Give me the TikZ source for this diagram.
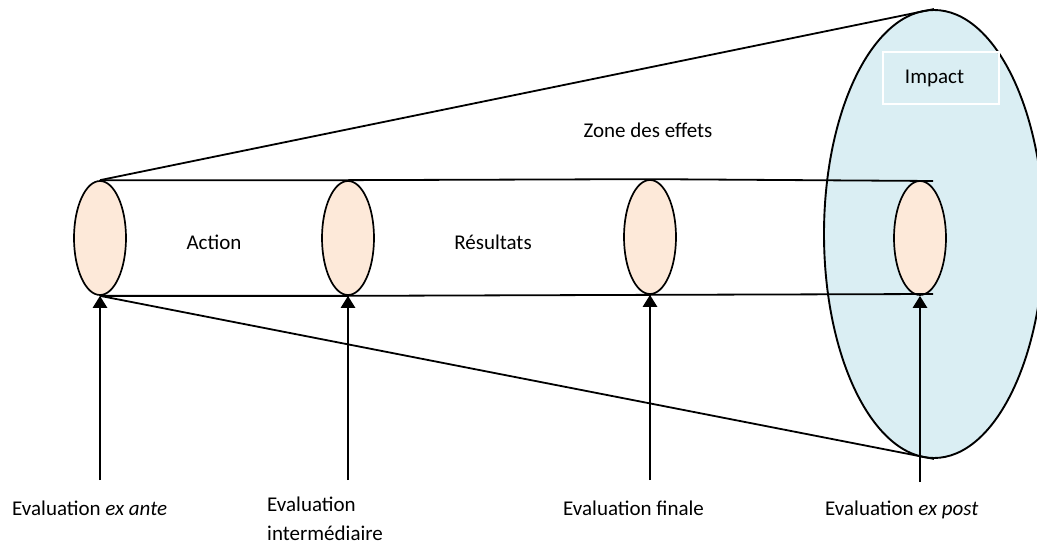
\documentclass[tikz,border=0pt]{standalone}
\usepackage{fontspec}
\setmainfont{Carlito}
\usepackage{tikz}
\usetikzlibrary{arrows.meta, shapes.geometric}

\tikzset{
  cell/.style={ellipse, draw, line width=1.7pt, fill={rgb,255:red,253;green,233;blue,217}, minimum width=52pt, minimum height=114pt, inner sep=0pt},
  probe/.style={-{Triangle[length=12pt,width=14pt]}, line width=2.6pt},
  rim/.style={line width=1.8pt},
  txt/.style={font=\fontsize{21}{29}\selectfont, inner sep=0pt}
}

\begin{document}
\begin{tikzpicture}[x=1pt, y=-1pt]
            \useasboundingbox (0,0) rectangle (1037,546);
            % zone of the effects
            \node [ellipse, draw, line width=1.9pt, fill={rgb,255:red,218;green,238;blue,243}, minimum width=220pt, minimum height=448pt, inner sep=0pt] (zone) at (934,234) {};
            \node [txt, draw=white, line width=2pt, minimum width=116pt, minimum height=52pt] (impact) at (941,78) {};
            \node [txt] (impacttxt) at (934.5,78) {Impact};
            % the four stages
            \node [cell] (exante) at (100,238) {};
            \node [cell] (inter) at (348,238) {};
            \node [cell] (finale) at (650,237) {};
            \node [cell] (expost) at (920,238) {};
            \coordinate (topend) at (933,181);
            \coordinate (botend) at (933,294);
            \draw [rim] (exante.north) -- (inter.north) -- (finale.north) -- (topend);
            \draw [rim] (exante.south) -- (inter.south) -- (finale.south) -- (botend);
            \draw [rim] (exante.north) -- (zone.north);
            \draw [rim] (exante.south) -- (zone.south);
            \node [txt] (action) at (214,242) {Action};
            \node [txt] (results) at (493,242) {Résultats};
            \node [txt] (effects) at (648,130) {Zone des effets};
            % evaluations
            \coordinate (a1) at (100,480);
            \coordinate (a2) at (348,480);
            \coordinate (a3) at (650,480);
            \coordinate (a4) at (920,482);
            \draw [probe] (a1) -- (exante.south);
            \draw [probe] (a2) -- (inter.south);
            \draw [probe] (a3) -- (finale.south);
            \draw [probe] (a4) -- (expost.south);
            \node [txt, anchor=base west] (ev1) at (12,515) {Evaluation \textit{ex ante}};
            \node [txt, anchor=base west, align=left] (ev2) at (267,540) {Evaluation\\intermédiaire};
            \node [txt, anchor=base west] (ev3) at (563,515) {Evaluation finale};
            \node [txt, anchor=base west] (ev4) at (825,515) {Evaluation \textit{ex post}};
        \end{tikzpicture}
\end{document}
